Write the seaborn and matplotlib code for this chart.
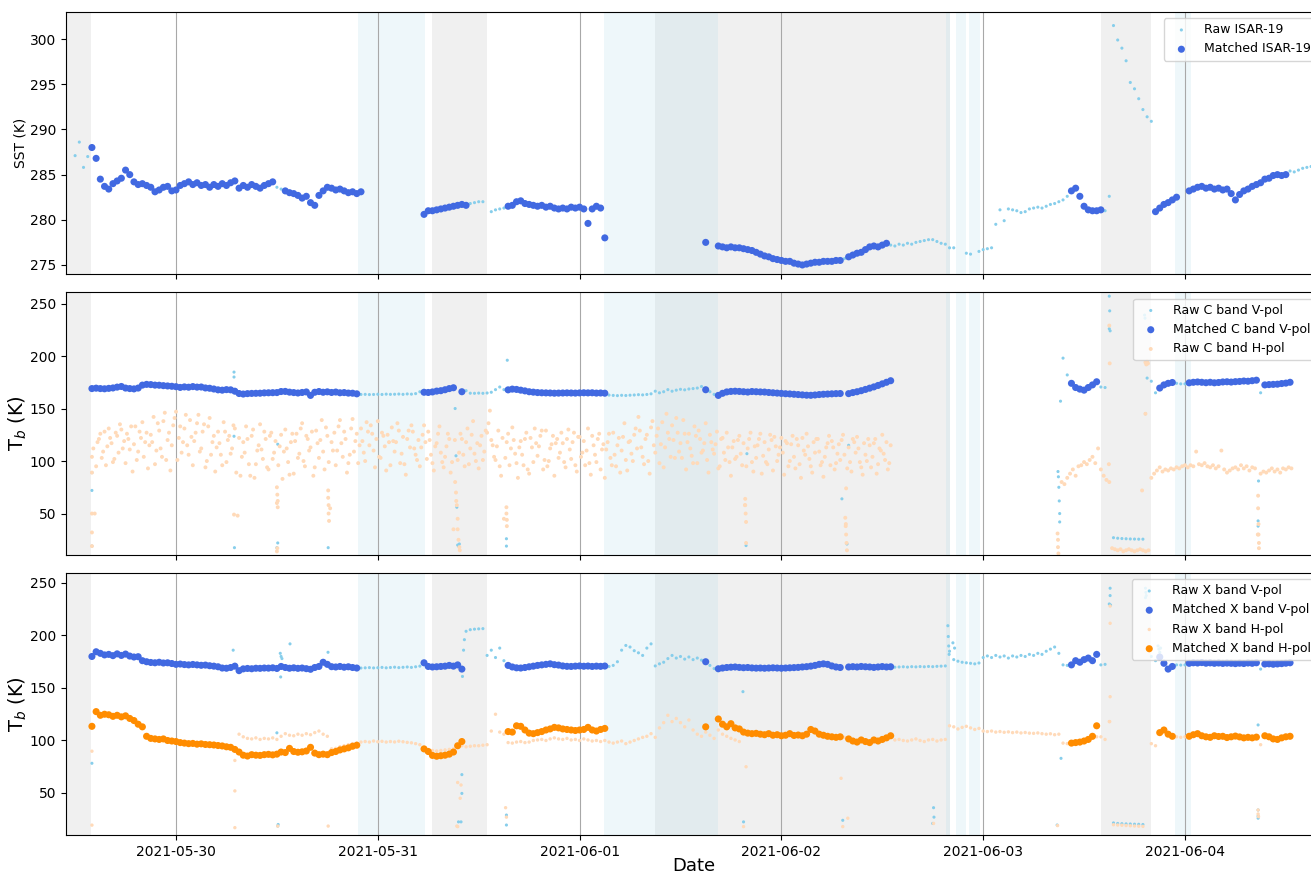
import numpy as np
import pandas as pd
import matplotlib
matplotlib.use("Agg")
import matplotlib.pyplot as plt
import matplotlib.dates as mdates
import seaborn as sns

nan = np.nan
T0 = pd.Timestamp("2021-05-29 00:00")   # reference time; all "h" values are hours since T0

# ---------------------------------------------------------------------------
# Half-hourly series, first sample at h = 12.0 (2021-05-29 12:00), one row = 6 h
# ---------------------------------------------------------------------------
sst_raw = [
    287.1, 288.6, 285.8, 287.0, 288.0, 286.8, 284.5, 283.7, 283.4, 284.0, 284.3, 284.6,
    285.5, 285.0, 284.2, 283.9, 284.0, 283.8, 283.6, 283.1, 283.3, 283.6, 283.7, 283.2,
    283.3, 283.8, 284.0, 284.2, 283.9, 284.1, 283.8, 283.9, 283.6, 283.9, 283.7, 284.0,
    283.8, 284.1, 284.3, 283.5, 283.8, 283.6, 283.9, 283.7, 283.5, 283.8, 284.0, 284.2,
    283.6, 283.4, 283.2, 283.0, 282.9, 282.7, 282.4, 282.6, 281.9, 281.6, 282.7, 283.2,
    283.6, 283.5, 283.3, 283.4, 283.2, 283.0, 283.1, 282.9, 283.1, nan, nan, nan,
    nan, nan, nan, nan, nan, nan, nan, nan, nan, nan, nan, 280.6,
    281.0, 281.0, 281.1, 281.2, 281.3, 281.4, 281.5, 281.6, 281.7, 281.6, 281.8, 281.9,
    282.0, 282.0, nan, 280.9, 281.1, 281.2, 281.3, 281.5, 281.6, 282.0, 282.1, 281.8,
    281.7, 281.6, 281.5, 281.6, 281.4, 281.5, 281.3, 281.2, 281.3, 281.2, 281.4, 281.3,
    281.4, 281.2, 279.6, 281.2, 281.5, 281.3, 278.0, nan, nan, nan, nan, nan,
    nan, nan, nan, nan, nan, nan, nan, nan, nan, nan, nan, nan,
    nan, nan, nan, nan, nan, nan, 277.5, nan, nan, 277.1, 277.0, 276.9,
    277.0, 276.9, 276.9, 276.8, 276.7, 276.6, 276.4, 276.2, 276.0, 275.9, 275.7, 275.6,
    275.5, 275.4, 275.4, 275.2, 275.1, 275.0, 275.1, 275.2, 275.3, 275.3, 275.4, 275.4,
    275.4, 275.5, 275.5, 275.7, 275.9, 276.1, 276.3, 276.4, 276.7, 277.0, 277.1, 277.0,
    277.2, 277.4, 277.2, 277.1, 277.3, 277.2, 277.4, 277.3, 277.5, 277.6, 277.7, 277.8,
    277.8, 277.6, 277.4, 277.3, 276.9, 276.9, nan, nan, 276.3, 276.2, nan, 276.5,
    276.7, 276.8, 276.9, 279.5, 281.1, 279.9, 281.2, 281.1, 281.0, 280.8, 280.9, 281.2,
    281.3, 281.4, 281.3, 281.5, 281.7, 281.8, 282.0, 282.2, 282.6, 283.2, 283.5, 282.6,
    281.5, 281.1, 281.0, 281.0, 281.1, 281.0, 282.6, 301.5, 299.9, 299.0, 297.6, 295.2,
    294.5, 293.4, 292.2, 291.4, 290.9, 280.9, 281.3, 281.7, 281.9, 282.2, 282.5, nan,
    nan, 283.2, 283.4, 283.6, 283.7, 283.5, 283.6, 283.4, 283.5, 283.3, 283.4, 282.9,
    282.2, 282.8, 283.2, 283.4, 283.7, 283.9, 284.1, 284.5, 284.6, 284.9, 285.0, 284.9,
    285.0, 285.4, 285.3, 285.5, 285.7, 285.8, 285.9, 285.8, 286.0,
]

c_vpol_raw = [
    nan, nan, nan, nan, 169.0, 169.4, 169.0, 168.8, 169.2, 169.6, 170.4, 171.0,
    169.5, 169.0, 168.7, 169.5, 172.3, 173.0, 172.8, 172.3, 172.2, 171.8, 171.5, 171.2,
    170.8, 170.1, 170.6, 170.3, 170.9, 170.4, 170.5, 169.6, 169.3, 168.6, 167.8, 167.5,
    168.0, 167.8, 166.5, 164.3, 163.8, 164.2, 164.4, 164.5, 164.6, 164.9, 165.0, 165.1,
    165.2, 166.2, 166.3, 165.6, 165.2, 164.8, 165.3, 165.8, 162.5, 165.5, 166.2, 165.5,
    165.9, 165.3, 165.7, 165.0, 165.2, 164.7, 164.6, 164.0, 163.4, 163.5, 163.3, 163.4,
    163.6, 163.4, 163.7, 163.5, 163.6, 163.8, 163.5, 163.9, 163.7, 164.2, 166.0, 165.5,
    165.3, 165.8, 166.6, 167.0, 167.9, 169.0, 169.8, nan, 166.0, 167.0, 164.6, 164.5,
    164.7, 164.5, 164.8, 165.5, 168.0, 170.5, 168.0, 167.8, 168.5, 168.2, 167.5, 166.8,
    166.0, 165.6, 165.2, 165.0, 164.9, 164.8, 164.6, 164.7, 164.8, 164.9, 164.8, 164.7,
    164.9, 165.0, 164.9, 165.0, 164.7, 164.8, 164.6, 162.8, 162.5, 162.3, 162.6, 162.4,
    162.7, 162.9, 163.2, 163.0, 163.4, 164.0, 166.5, 165.0, 166.0, 168.0, 166.5, 167.5,
    168.3, 167.8, 168.6, 169.0, 169.5, 171.0, 167.9, 166.0, 163.5, 162.5, 164.5, 165.8,
    166.3, 166.5, 166.3, 166.0, 165.7, 166.2, 166.0, 165.8, 165.7, 165.3, 165.0, 164.7,
    164.4, 164.1, 163.9, 163.6, 163.3, 163.0, 162.7, 162.6, 162.9, 163.3, 163.6, 163.8,
    164.0, 164.2, 164.3, nan, 164.2, 165.2, 166.0, 167.0, 168.2, 169.4, 170.6, 172.0,
    173.5, 175.0, 176.5, nan, nan, nan, nan, nan, nan, nan, nan, nan,
    nan, nan, nan, nan, nan, nan, nan, nan, nan, nan, nan, nan,
    nan, nan, nan, nan, nan, nan, nan, nan, nan, nan, nan, nan,
    nan, nan, nan, nan, nan, nan, nan, 198.0, 182.0, 174.0, 170.0, 168.5,
    167.5, 170.0, 172.5, 175.5, 170.5, 170.0, 226.0, 27.0, 26.5, 26.2, 26.0, 25.8,
    25.7, 25.6, 25.6, 179.0, 176.0, 165.0, 169.5, 172.5, 174.0, 174.8, 174.0, 173.5,
    173.5, 174.5, 175.0, 175.3, 175.0, 174.6, 175.0, 174.5, 174.8, 175.3, 175.5, 175.2,
    175.6, 175.8, 176.2, 176.0, 176.5, 177.0, 165.0, 172.5, 172.8, 173.0, 173.2, 173.8,
    174.2, 175.0, nan, nan, nan, nan,
]

x_vpol_raw = [
    nan, nan, nan, nan, 180.0, 184.5, 183.0, 181.5, 182.0, 180.8, 182.5, 181.0,
    182.3, 180.4, 179.5, 179.8, 176.0, 175.0, 174.3, 174.0, 174.5, 173.8, 174.0, 173.3,
    172.5, 172.8, 172.3, 172.0, 172.4, 172.0, 171.6, 171.8, 171.2, 170.8, 170.2, 169.0,
    168.8, 169.5, 170.8, 166.5, 168.2, 168.6, 168.3, 168.8, 168.7, 169.0, 168.9, 169.2,
    168.6, 170.5, 169.5, 168.8, 169.2, 168.7, 169.0, 168.4, 167.8, 169.5, 170.5, 174.5,
    172.5, 170.3, 170.0, 170.5, 169.8, 170.2, 169.5, 169.0, 169.0, 169.2, 169.4, 169.1,
    169.3, 169.6, 169.2, 169.5, 169.8, 169.4, 169.7, 170.0, 169.6, 170.2, 170.8, 174.0,
    170.5, 170.0, 170.2, 170.5, 170.8, 171.5, 170.8, 172.0, 168.0, 204.0, 205.5, 206.0,
    206.3, 206.5, 181.0, 186.0, 179.0, 188.0, 176.0, 171.5, 170.0, 169.2, 169.0, 169.5,
    170.2, 170.8, 171.5, 172.0, 172.5, 173.0, 172.2, 171.8, 171.0, 170.6, 170.5, 170.8,
    171.0, 170.7, 170.9, 170.5, 170.8, 170.6, 170.9, 170.5, 171.5, 175.0, 186.0, 190.5,
    189.0, 185.5, 183.5, 181.0, 188.0, 192.0, 171.0, 173.0, 174.5, 178.0, 181.0, 178.5,
    180.0, 177.5, 179.5, 177.0, 178.5, 176.5, 175.0, 171.5, 168.5, 168.3, 169.0, 169.5,
    169.8, 170.0, 169.6, 169.3, 169.5, 169.1, 168.9, 169.0, 168.8, 169.0, 169.2, 169.0,
    168.8, 169.0, 169.2, 169.4, 169.6, 170.0, 170.3, 170.8, 171.5, 172.5, 173.0, 172.5,
    171.0, 170.0, 169.5, nan, 170.0, 170.3, 170.0, 170.5, 170.2, 170.0, 169.6, 170.0,
    170.4, 170.0, 170.2, 169.8, 170.0, 170.2, 169.9, 170.3, 170.1, 170.4, 170.2, 170.5,
    170.3, 170.6, 170.8, 171.0, 185.0, 177.0, 175.5, 174.5, 174.0, 173.5, 173.0, 173.8,
    179.0, 180.5, 179.0, 181.0, 179.5, 180.5, 178.5, 180.5, 179.5, 181.0, 180.0, 182.0,
    181.0, 183.0, 182.0, 185.0, 187.0, 189.0, 183.0, 172.0, 171.5, 172.0, 176.0, 174.5,
    177.0, 178.5, 176.0, 182.0, 172.0, 172.5, 230.0, 21.5, 21.0, 20.8, 20.6, 20.5,
    20.3, 20.2, 20.0, nan, 180.0, 176.0, 179.5, 173.5, 168.0, 170.5, 172.0, 171.8,
    172.0, 173.5, 174.0, 173.8, 174.2, 173.6, 173.9, 173.5, 173.8, 173.4, 173.7, 173.5,
    173.2, 173.6, 173.3, 173.8, 173.5, 174.0, 168.0, 172.8, 173.0, 172.6, 172.9, 173.2,
    173.6, 174.0, nan, nan, nan, nan,
]

x_hpol_raw = [
    nan, nan, nan, nan, 112.0, 127.0, 124.0, 125.0, 124.5, 123.0, 124.0, 122.5,
    123.5, 121.0, 119.0, 115.5, 113.0, 104.0, 102.0, 101.5, 101.0, 101.5, 100.0, 99.5,
    99.0, 98.0, 97.5, 97.0, 97.2, 96.5, 96.8, 96.2, 96.0, 95.7, 95.2, 94.8,
    94.0, 93.5, 91.5, 106.0, 103.5, 102.0, 101.5, 102.5, 101.0, 102.0, 101.5, 102.5,
    101.0, 104.0, 106.5, 105.0, 104.5, 106.0, 105.0, 106.5, 105.5, 107.5, 109.0, 106.0,
    104.0, 92.0, 92.5, 94.0, 95.0, 96.0, 97.0, 97.5, 98.5, 99.0, 98.5, 99.5,
    98.8, 99.2, 98.5, 99.0, 98.6, 99.3, 98.8, 98.2, 97.8, 97.0, 96.0, 93.0,
    91.5, 90.5, 90.0, 90.5, 91.0, 91.5, 92.0, 60.0, 95.0, 94.0, 94.5, 95.0,
    95.0, 95.5, 96.0, 109.0, 125.0, 108.0, 106.0, 98.0, 97.5, 98.5, 99.0, 98.0,
    98.5, 100.0, 100.5, 101.0, 100.0, 101.5, 102.5, 101.5, 101.0, 102.0, 100.5, 101.0,
    100.0, 101.5, 100.5, 99.5, 100.0, 99.0, 100.0, 98.5, 97.5, 98.5, 99.5, 97.0,
    98.5, 100.0, 101.5, 103.0, 104.0, 106.5, 103.0, 112.0, 117.0, 124.0, 118.0, 121.0,
    117.0, 113.0, 119.5, 110.0, 106.0, 104.0, 108.0, 105.0, 102.0, 110.0, 106.0, 104.0,
    102.0, 100.5, 99.0, 108.0, 107.0, 106.5, 106.8, 106.0, 105.5, 106.5, 105.0, 105.5,
    104.5, 105.0, 106.5, 104.8, 105.2, 104.5, 106.0, 110.5, 109.0, 106.0, 105.0, 104.0,
    103.5, 103.0, 103.5, 103.0, 101.5, 99.5, 98.5, 100.5, 99.0, 98.0, 100.5, 99.5,
    101.0, 102.5, 104.5, 100.5, 101.0, 100.0, 99.5, 100.5, 101.5, 100.0, 99.0, 100.5,
    101.0, 99.5, 100.5, 101.0, 114.0, 113.0, 111.0, 112.5, 113.5, 112.0, 110.5, 111.5,
    109.0, 108.5, 109.0, 108.0, 108.5, 107.8, 108.2, 107.5, 108.0, 107.2, 107.6, 107.0,
    106.8, 107.2, 106.5, 106.0, 106.4, 105.5, 106.0, 97.5, 97.0, 97.5, 96.5, 97.0,
    98.5, 100.0, 102.0, 103.5, 103.5, 101.0, 118.0, 19.8, 19.5, 19.3, 19.0, 18.8,
    18.6, 18.4, 18.2, nan, 97.0, 95.0, 107.0, 109.5, 106.5, 104.5, 103.5, 103.0,
    103.5, 104.0, 105.5, 106.5, 104.5, 103.5, 103.0, 104.5, 103.8, 104.0, 102.8, 103.5,
    104.2, 103.4, 102.5, 103.0, 102.5, 103.2, 96.0, 104.5, 103.5, 101.5, 101.0, 102.5,
    103.5, 104.0, nan, nan, nan, nan,
]

x_hpol_matched = [
    nan, nan, nan, nan, 113.5, 127.5, 124.0, 125.0, 124.5, 123.0, 124.0, 122.5,
    123.5, 121.0, 119.0, 115.5, 113.0, 104.0, 102.0, 101.5, 101.0, 101.5, 100.0, 99.5,
    99.0, 98.0, 97.5, 97.0, 97.2, 96.5, 96.8, 96.2, 96.0, 95.7, 95.2, 94.8,
    94.0, 93.5, 91.5, 89.0, 86.0, 85.2, 86.5, 86.0, 85.8, 86.5, 86.8, 86.3,
    87.0, 89.0, 88.5, 92.5, 89.5, 88.8, 89.2, 90.0, 93.5, 88.0, 86.5, 87.0,
    86.5, 88.5, 89.5, 91.0, 92.0, 93.0, 94.5, 95.5, nan, nan, nan, nan,
    nan, nan, nan, nan, nan, nan, nan, nan, nan, nan, nan, 92.0,
    89.5, 85.8, 85.0, 85.5, 86.0, 87.0, 89.0, 95.0, 99.0, nan, nan, nan,
    nan, nan, nan, nan, nan, nan, nan, 108.5, 108.0, 114.0, 113.5, 110.0,
    107.0, 106.5, 107.5, 108.5, 110.0, 111.0, 112.5, 112.0, 111.0, 110.5, 110.0, 109.5,
    110.0, 110.5, 112.5, 110.0, 109.0, 110.5, 111.5, nan, nan, nan, nan, nan,
    nan, nan, nan, nan, nan, nan, nan, nan, nan, nan, nan, nan,
    nan, nan, nan, nan, nan, nan, 113.0, nan, nan, 120.5, 115.5, 113.0,
    116.0, 112.0, 111.0, 108.0, 107.0, 106.5, 106.8, 106.0, 105.5, 106.5, 105.0, 105.5,
    104.5, 105.0, 106.5, 104.8, 105.2, 104.5, 106.0, 110.5, 109.0, 106.0, 105.0, 104.0,
    103.5, 103.0, 103.5, nan, 101.5, 99.5, 98.5, 100.5, 99.0, 98.0, 100.5, 99.5,
    101.0, 102.5, 104.5, nan, nan, nan, nan, nan, nan, nan, nan, nan,
    nan, nan, nan, nan, nan, nan, nan, nan, nan, nan, nan, nan,
    nan, nan, nan, nan, nan, nan, nan, nan, nan, nan, nan, nan,
    nan, nan, nan, nan, nan, nan, nan, nan, nan, 97.5, 98.0, 98.5,
    99.5, 101.0, 104.0, 114.0, nan, nan, nan, nan, nan, nan, nan, nan,
    nan, nan, nan, nan, nan, nan, 107.5, 110.0, 106.0, 104.0, nan, nan,
    nan, 104.0, 105.5, 106.5, 104.5, 103.5, 103.0, 104.5, 103.8, 104.0, 102.8, 103.5,
    104.2, 103.4, 102.5, 103.0, 102.5, 103.2, nan, 104.5, 103.5, 101.5, 101.0, 102.5,
    103.5, 104.0, nan, nan, nan, nan,
]

# C-band H-pol, 20-minute samples from h = 14.0 (series A), h = 14 1/6 (series A2,
# interleaved) and h = 129 1/3 (series B)
c_hpol_raw_a = [
    104, 50, 118, 126, 109, 96, 131, 117, 102, 124, 135, 112,
    98, 121, 133, 116, 101, 128, 137, 118, 93, 125, 142, 110,
    129, 104, 146, 120, 91, 134, 147, 122, 108, 131, 115, 139,
    96, 127, 144, 112, 135, 100, 141, 118, 90, 128, 106, 137,
    99, 124, 112, 131, 48, 86, 118, 133, 97, 124, 84, 110,
    135, 102, 121, 92, 127, 108, 60, 114, 83, 130, 99, 118,
    88, 126, 107, 136, 95, 121, 113, 86, 129, 103, 139, 92,
    124, 55, 110, 96, 133, 117, 128, 89, 106, 140, 119, 98,
    131, 108, 137, 115, 126, 94, 138, 103, 124, 91, 118, 132,
    109, 136, 98, 123, 87, 129, 134, 112, 101, 95, 125, 118,
    128, 106, 91, 117, 133, 99, 104, 126, 89, 35, 62, 108,
    121, 95, 131, 112, 138, 100, 93, 124, 109, 127, 148, 115,
    101, 129, 86, 45, 118, 96, 132, 107, 84, 119, 96, 127,
    88, 113, 131, 105, 124, 92, 129, 100, 116, 86, 121, 108,
    117, 94, 130, 102, 127, 90, 123, 108, 96, 131, 87, 115,
    99, 126, 111, 84, 118, 103, 127, 95, 122, 110, 136, 91,
    119, 100, 131, 142, 113, 97, 125, 88, 138, 108, 131, 116,
    94, 145, 121, 134, 103, 127, 117, 139, 92, 126, 105, 133,
    98, 121, 110, 136, 89, 118, 107, 128, 95, 122, 101, 113,
    86, 119, 104, 124, 96, 58, 112, 127, 90, 103, 121, 88,
    118, 97, 125, 91, 114, 106, 122, 87, 117, 100, 124, 93,
    115, 84, 110, 126, 102, 89, 108, 121, 96, 85, 113, 124,
    119, 92, 107, 101, 125, 40, 113, 90, 118, 123, 99, 87,
    106, 121, 94, 117, 88, 112, 125, 101, 92, 115,
]

c_hpol_raw_a2 = [
    112, 95, 121, 103, 128, 114, 122, 99, 127, 108, 130, 119,
    126, 111, 90, 133, 109, 122, 104, 127, 115, 118, 97, 136,
    112, 138, 101, 127, 115, 141, 101, 133, 118, 144, 106, 123,
    119, 136, 109, 128, 94, 133, 106, 124, 113, 117, 96, 128,
    120, 107, 134, 89, 122, 104, 108, 121, 86, 130, 97, 115,
    111, 128, 94, 124, 102, 119, 96, 125, 109, 112, 87, 126,
    119, 103, 131, 100, 124, 110, 128, 94, 117, 120, 109, 132,
    99, 118, 127, 110, 139, 104, 121, 98, 131, 109, 126, 115,
    119, 100, 128, 134, 110, 121, 104, 127, 114, 125, 96, 119,
    118, 129, 107, 97, 121, 113, 128, 106, 120, 113, 134, 102,
    120, 98, 114, 126, 108, 94, 114, 121, 99, 120, 101, 126,
    106, 118, 97, 125, 107, 117, 115, 101, 129, 136, 120, 104,
    114, 95, 122, 103, 126, 112, 120, 98, 113, 106, 121, 92,
    122, 99, 117, 114, 129, 101, 95, 112, 124, 117, 103, 127,
    99, 121, 111, 118, 96, 123, 104, 119, 110, 98, 124, 106,
    121, 92, 116, 111, 126, 96, 106, 115, 89, 123, 101, 118,
    107, 125, 112, 129, 104, 121, 100, 132, 115, 124, 98, 137,
    113, 127, 104, 120, 141, 109, 103, 126, 118, 112, 98, 124,
    129, 108, 117, 101, 125, 111, 116, 93, 121, 108, 127, 99,
    113, 102, 120, 107, 117, 95, 121, 99, 114, 115, 126, 105,
    99, 111, 120, 123, 100, 113, 108, 119, 95, 116, 104, 121,
    97, 122, 106, 114, 95, 118, 121, 109, 99, 104, 117, 96,
    113, 98, 116, 120, 106, 93, 99, 121, 108, 112, 94, 117,
    100, 115, 104, 121, 97, 110, 107, 118, 98,
]

c_hpol_raw_b = [
    80, 78, 84, 88, 92, 86, 95, 96, 99, 97, 101, 104,
    98, 112, 92, 86, 82, 80, 17, 16, 15, 16, 14, 15,
    16, 15, 14, 15, 16, 15, 14, 15, 84, 88, 91, 94,
    90, 92, 91, 93, 92, 94, 93, 95, 96, 94, 96, 95,
    109, 97, 96, 98, 95, 94, 96, 93, 95, 110, 92, 89,
    91, 93, 94, 92, 96, 93, 95, 91, 94, 93, 30, 88,
    90, 89, 91, 93, 90, 92, 89, 93, 92, 94, 93,
]

# Isolated raw samples off the regular grid: (hours since T0, temperature)
c_vpol_extra = [
    (14.0, 72), (14.0, 19), (14.0, 89), (30.9, 184.7), (30.9, 180), (30.9, 123.6),
    (30.95, 17.5), (36.0, 17.5), (36.1, 22), (36.1, 116), (42.1, 17.5),
    (57.2, 150), (57.3, 105), (57.4, 56), (57.5, 20), (57.6, 19), (57.7, 21),
    (63.4, 196), (63.3, 26), (63.3, 19), (91.9, 107), (91.8, 19.5),
    (104.0, 115), (103.2, 64), (103.8, 21), (128.9, 90), (128.95, 85), (129.0, 75),
    (129.05, 62), (129.1, 50), (129.1, 42), (129.2, 157), (135.0, 257), (135.05, 243),
    (135.1, 224), (139.2, 239), (139.25, 236), (139.3, 145),
    (152.7, 43), (152.7, 38), (152.75, 81),
]
c_hpol_extra = [
    (14.0, 50), (14.0, 32), (14.0, 19), (14.0, 89), (30.9, 49),
    (36.0, 75), (36.05, 68), (36.1, 62), (36.1, 56), (36.0, 14), (36.05, 17),
    (42.1, 72), (42.1, 65), (42.15, 58), (42.15, 50), (42.2, 43),
    (57.2, 80), (57.3, 70), (57.4, 58), (57.5, 45), (57.5, 35), (57.6, 25), (57.7, 18), (57.75, 15),
    (63.3, 56), (63.3, 50), (63.35, 44), (63.35, 38),
    (91.7, 64), (91.7, 58), (91.75, 50), (91.8, 42), (91.8, 22),
    (103.7, 74), (103.6, 46), (103.65, 38), (103.7, 30), (103.75, 22), (103.8, 15),
    (128.85, 31), (128.9, 25), (128.9, 18), (128.95, 12),
    (135.0, 229), (135.05, 193), (134.95, 97),
    (139.3, 194), (139.4, 192), (139.5, 195), (139.6, 193), (139.3, 145), (138.9, 72),
    (152.7, 67), (152.7, 55), (152.75, 40), (152.75, 30), (152.8, 22), (152.8, 17),
]
x_vpol_extra = [
    (14.0, 78.3), (30.8, 186), (36.4, 183), (36.5, 180), (36.6, 178), (36.45, 160.5),
    (36.0, 107.3), (37.56, 192), (42.08, 184), (36.1, 18.5), (36.15, 20),
    (58.07, 161), (58.0, 67.5), (58.0, 49.6), (57.6, 22.5), (57.9, 22.5), (58.2, 186), (58.3, 196),
    (63.3, 19.5), (63.3, 29), (91.43, 146.5), (91.5, 22.5), (103.3, 24),
    (114.15, 27), (114.1, 36), (114.0, 21), (128.8, 19.5), (129.26, 83),
    (115.8, 209.3), (115.85, 199), (115.9, 190), (115.95, 182), (116.4, 193), (116.6, 188),
    (135.1, 245), (135.1, 238), (135.15, 229), (139.3, 245), (139.35, 241), (139.4, 238),
    (139.3, 236), (140.8, 190), (140.9, 187), (141.0, 184), (141.1, 188),
    (152.7, 114.8), (152.7, 33.8), (152.7, 28), (152.7, 26),
]
x_hpol_extra = [
    (14.0, 89.8), (14.0, 19.4), (31.0, 17), (31.0, 52), (31.0, 81), (36.1, 18.5), (42.1, 18.5),
    (57.9, 57.6), (57.8, 45), (57.5, 18), (57.4, 18.5), (63.3, 27), (63.2, 36),
    (91.8, 75), (91.5, 18), (103.1, 64), (103.9, 26), (103.3, 18), (114.1, 21), (128.85, 19),
    (135.1, 211.6), (135.1, 141.7), (135.05, 118), (135.1, 228),
    (152.7, 33.8), (152.7, 30), (152.75, 27.5),
]

# Collocation windows (hours since T0, inclusive)
sst_match_windows = [(14, 35.5), (37, 46), (53.5, 58.5), (63.5, 75), (87, 87), (88.5, 103),
                     (104, 108.5), (130.5, 134), (140.5, 143), (144.5, 156)]
mw_match_windows = [(14, 45.5), (53.5, 58), (63.5, 75), (87, 87), (88.5, 103), (104, 109),
                    (130.5, 133.5), (141, 142.5), (144.5, 152.5), (153.5, 156.5)]

# Flagged periods (hours since T0)
grey_periods = [(10.9, 13.9), (54.45, 61.0), (80.97, 116.06), (134.0, 139.96)]
blue_periods = [(45.65, 53.6), (74.9, 88.46), (115.53, 116.06), (116.77, 117.96),
                (118.3, 119.6), (142.8, 144.7)]

x_range = ("2021-05-29 10:55", "2021-06-04 16:18")


def to_time(hours):
    return (T0 + pd.to_timedelta(np.asarray(hours, dtype=float), unit="h")).to_numpy()


def grid_hours(values, start_h, step_h):
    return start_h + step_h * np.arange(len(values))


def in_windows(hours, windows):
    mask = np.zeros(len(hours), dtype=bool)
    for a, b in windows:
        mask |= (hours >= a - 1e-6) & (hours <= b + 1e-6)
    return mask


def with_extra(hours, values, extra):
    eh = np.array([p[0] for p in extra], dtype=float)
    ev = np.array([p[1] for p in extra], dtype=float)
    return np.concatenate([hours, eh]), np.concatenate([np.asarray(values, float), ev])


def dots(ax, hours, values, color, size, label, z):
    hours = np.asarray(hours, float)
    values = np.asarray(values, float)
    ok = ~np.isnan(values)
    sns.scatterplot(x=to_time(hours[ok]), y=values[ok], ax=ax, color=color, s=size,
                    linewidth=0, edgecolor="none", label=label, zorder=z)


RAW_V, MATCH_V = "skyblue", "royalblue"
RAW_H, MATCH_H = "peachpuff", "darkorange"
S_RAW, S_MATCH, S_CLOUD = 5, 26, 8

fig = plt.figure(figsize=(13.11, 8.75), dpi=100)
axes = fig.subplots(3, 1, sharex=True)
# the right spine sits just past the canvas edge
fig.subplots_adjust(left=66 / 1311, right=1322 / 1311, top=1 - 12 / 875,
                    bottom=1 - 835 / 875, hspace=0.0706)

h30 = grid_hours(sst_raw, 12.0, 0.5)

# --- SST panel ---
ax = axes[0]
sst = np.asarray(sst_raw, float)
dots(ax, h30, sst, RAW_V, S_RAW, "Raw ISAR-19", 2)
m = in_windows(h30, sst_match_windows)
dots(ax, h30[m], sst[m], MATCH_V, S_MATCH, "Matched ISAR-19", 3)
ax.set_ylim(274.0, 303.0)
ax.set_ylabel("SST (K)", fontsize=10, labelpad=2)

# --- C band panel ---
ax = axes[1]
hv = grid_hours(c_vpol_raw, 12.0, 0.5)
cv = np.asarray(c_vpol_raw, float)
hh, vv = with_extra(hv, cv, c_vpol_extra)
dots(ax, hh, vv, RAW_V, S_RAW, "Raw C band V-pol", 2)
m = in_windows(hv, mw_match_windows)
dots(ax, hv[m], cv[m], MATCH_V, S_MATCH, "Matched C band V-pol", 3)
hh = np.concatenate([grid_hours(c_hpol_raw_a, 14.0, 1 / 3),
                     grid_hours(c_hpol_raw_a2, 14 + 1 / 6, 1 / 3),
                     grid_hours(c_hpol_raw_b, 129 + 1 / 3, 1 / 3)])
vv = np.concatenate([np.asarray(c_hpol_raw_a, float), np.asarray(c_hpol_raw_a2, float),
                     np.asarray(c_hpol_raw_b, float)])
hh, vv = with_extra(hh, vv, c_hpol_extra)
dots(ax, hh, vv, RAW_H, S_CLOUD, "Raw C band H-pol", 2)
ax.set_ylim(11, 260.5)
ax.set_ylabel(r"T$_b$ (K)", fontsize=14, labelpad=1)

# --- X band panel ---
ax = axes[2]
xv = np.asarray(x_vpol_raw, float)
hh, vv = with_extra(hv, xv, x_vpol_extra)
dots(ax, hh, vv, RAW_V, S_RAW, "Raw X band V-pol", 2)
dots(ax, hv[m], xv[m], MATCH_V, S_MATCH, "Matched X band V-pol", 3)
hh, vv = with_extra(hv, x_hpol_raw, x_hpol_extra)
dots(ax, hh, vv, RAW_H, S_RAW + 1, "Raw X band H-pol", 2)
dots(ax, hv, x_hpol_matched, MATCH_H, S_MATCH, "Matched X band H-pol", 3)
ax.set_ylim(10, 259.5)
ax.set_ylabel(r"T$_b$ (K)", fontsize=14, labelpad=1)

for ax in axes:
    for a, b in grey_periods:
        ax.axvspan(to_time([a])[0], to_time([b])[0], color="lightgray", alpha=0.32, lw=0, zorder=0)
    for a, b in blue_periods:
        ax.axvspan(to_time([a])[0], to_time([b])[0], color="lightblue", alpha=0.2, lw=0, zorder=0)
    ax.grid(axis="x", color="#a8a8a8", lw=0.8)
    ax.grid(axis="y", visible=False)
    ax.set_xlim(pd.Timestamp(x_range[0]), pd.Timestamp(x_range[1]))
    ax.xaxis.set_major_locator(mdates.DayLocator())
    ax.xaxis.set_major_formatter(mdates.DateFormatter("%Y-%m-%d"))
    ax.tick_params(labelsize=10)
    ax.legend(loc="upper right", fontsize=9)
axes[0].set_xlabel("")
axes[1].set_xlabel("")
axes[2].set_xlabel("Date", fontsize=13, labelpad=-1)

fig.savefig("out.png", dpi=100)
